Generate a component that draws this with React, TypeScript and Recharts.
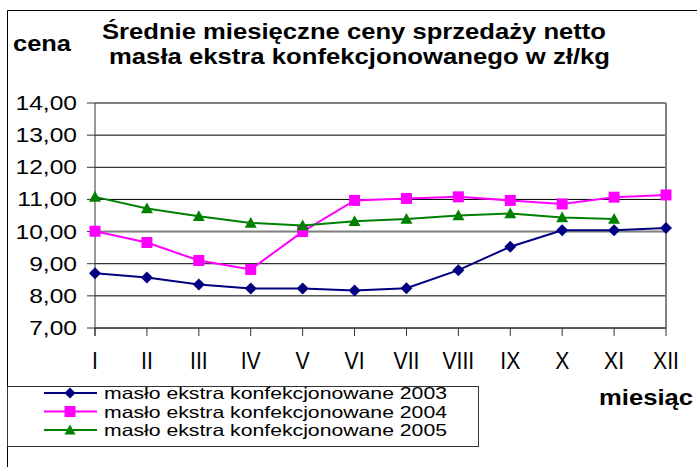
import React from "react";
import { LineChart, Line, XAxis, YAxis, CartesianGrid, ReferenceLine } from "recharts";

const months = ["I", "II", "III", "IV", "V", "VI", "VII", "VIII", "IX", "X", "XI", "XII"];
const prices2003 = [8.7, 8.57, 8.35, 8.23, 8.23, 8.17, 8.24, 8.8, 9.53, 10.04, 10.04, 10.11];
const prices2004 = [10.01, 9.66, 9.1, 8.82, 10.0, 10.97, 11.03, 11.08, 10.97, 10.86, 11.07, 11.14];
const prices2005 = [11.08, 10.72, 10.48, 10.27, 10.19, 10.32, 10.39, 10.5, 10.56, 10.44, 10.39, null];
const yTicks = [7, 8, 9, 10, 11, 12, 13, 14];

const seriesNames = [
  "masło ekstra konfekcjonowane 2003",
  "masło ekstra konfekcjonowane 2004",
  "masło ekstra konfekcjonowane 2005",
];
const seriesColors = ["#000080", "#FF00FF", "#008000"];
const seriesShapes = ["diamond", "square", "triangle"];

const data = months.map((m, i) => ({
  month: m,
  s2003: prices2003[i],
  s2004: prices2004[i],
  s2005: prices2005[i],
}));

const FONT = "'Liberation Sans', Arial, sans-serif";

function Marker({ shape, cx, cy, color, size }: { shape: string; cx: number; cy: number; color: string; size: number }) {
  const h = size / 2;
  if (shape === "diamond") {
    return <polygon points={`${cx},${cy - h} ${cx + h},${cy} ${cx},${cy + h} ${cx - h},${cy}`} fill={color} />;
  }
  if (shape === "square") {
    return <rect x={cx - h} y={cy - h} width={size} height={size} fill={color} />;
  }
  return <polygon points={`${cx},${cy - h} ${cx + h},${cy + h * 0.8} ${cx - h},${cy + h * 0.8}`} fill={color} />;
}

const makeDot = (shape: string, color: string, size: number) => (p: any) => {
  if (p.cy == null || p.value == null || isNaN(p.cy)) return <g key={p.index} />;
  return (
    <g key={p.index}>
      <Marker shape={shape} cx={p.cx} cy={p.cy} color={color} size={size} />
    </g>
  );
};

const YTick = (p: any) => (
  <text
    transform={`translate(${p.x},${p.y + 7}) scale(1.2,1)`}
    textAnchor="end"
    fontFamily={FONT}
    fontSize={20.5}
    fill="#000"
  >
    {p.payload.value.toFixed(2).replace(".", ",")}
  </text>
);

const XTick = (p: any) => (
  <text
    transform={`translate(${p.x},${p.y + 31}) scale(0.9,1)`}
    textAnchor="middle"
    fontFamily={FONT}
    fontSize={23.5}
    fill="#000"
  >
    {p.payload.value}
  </text>
);

export default function App() {
  return (
    <div style={{ position: "absolute", left: 0, top: 0, width: 697, height: 467, background: "#fff" }}>
      <LineChart
        width={697}
        height={467}
        data={data}
        margin={{ top: 103, right: 31, bottom: 99, left: 0 }}
      >
        <CartesianGrid vertical={false} stroke="#000" strokeWidth={1} />
        <ReferenceLine y={10} stroke="#808080" strokeWidth={2} />
        <ReferenceLine y={14} stroke="#808080" strokeWidth={2} />
        <ReferenceLine x="XII" stroke="#808080" strokeWidth={2} />
        <XAxis
          dataKey="month"
          height={40}
          interval={0}
          tickSize={8}
          tickMargin={2}
          stroke="#333"
          tick={<XTick />}
        />
        <YAxis
          width={95}
          domain={[7, 14]}
          ticks={yTicks}
          interval={0}
          tickSize={8}
          tickMargin={10}
          stroke="#333"
          tick={<YTick />}
        />
        <Line
          dataKey="s2003"
          stroke={seriesColors[0]}
          strokeWidth={2}
          dot={makeDot(seriesShapes[0], seriesColors[0], 12)}
          isAnimationActive={false}
        />
        <Line
          dataKey="s2004"
          stroke={seriesColors[1]}
          strokeWidth={2}
          dot={makeDot(seriesShapes[1], seriesColors[1], 11)}
          isAnimationActive={false}
        />
        <Line
          dataKey="s2005"
          stroke={seriesColors[2]}
          strokeWidth={2}
          connectNulls={false}
          dot={makeDot(seriesShapes[2], seriesColors[2], 12)}
          isAnimationActive={false}
        />
      </LineChart>
      <svg
        width={697}
        height={467}
        style={{ position: "absolute", left: 0, top: 0, pointerEvents: "none" }}
      >
        <line x1={7.5} y1={10.5} x2={697} y2={10.5} stroke="#000" />
        <line x1={7.5} y1={10.5} x2={7.5} y2={467} stroke="#000" />
        <line x1={95} y1={328} x2={95} y2={336} stroke="#333" />
        <text x={102} y={38.5} fontFamily={FONT} fontWeight="bold" fontSize={22} textLength={504} lengthAdjust="spacingAndGlyphs">
          Średnie miesięczne ceny sprzedaży netto
        </text>
        <text x={109} y={64} fontFamily={FONT} fontWeight="bold" fontSize={22} textLength={501} lengthAdjust="spacingAndGlyphs">
          masła ekstra konfekcjonowanego w zł/kg
        </text>
        <text x={13} y={51} fontFamily={FONT} fontWeight="bold" fontSize={22} textLength={58} lengthAdjust="spacingAndGlyphs">
          cena
        </text>
        <text x={599} y={405} fontFamily={FONT} fontWeight="bold" fontSize={22} textLength={94} lengthAdjust="spacingAndGlyphs">
          miesiąc
        </text>
        <rect x={7.5} y={386.5} width={471} height={60} fill="none" stroke="#333" />
        {seriesNames.map((name, i) => {
          const cy = 393 + i * 18.5;
          return (
            <g key={name}>
              <line x1={44} y1={cy} x2={97} y2={cy} stroke={seriesColors[i]} strokeWidth={2} />
              <Marker shape={seriesShapes[i]} cx={70} cy={cy} color={seriesColors[i]} size={11} />
              <text x={104} y={cy + 6} fontFamily={FONT} fontSize={16.5} textLength={343} lengthAdjust="spacingAndGlyphs">
                {name}
              </text>
            </g>
          );
        })}
      </svg>
    </div>
  );
}
